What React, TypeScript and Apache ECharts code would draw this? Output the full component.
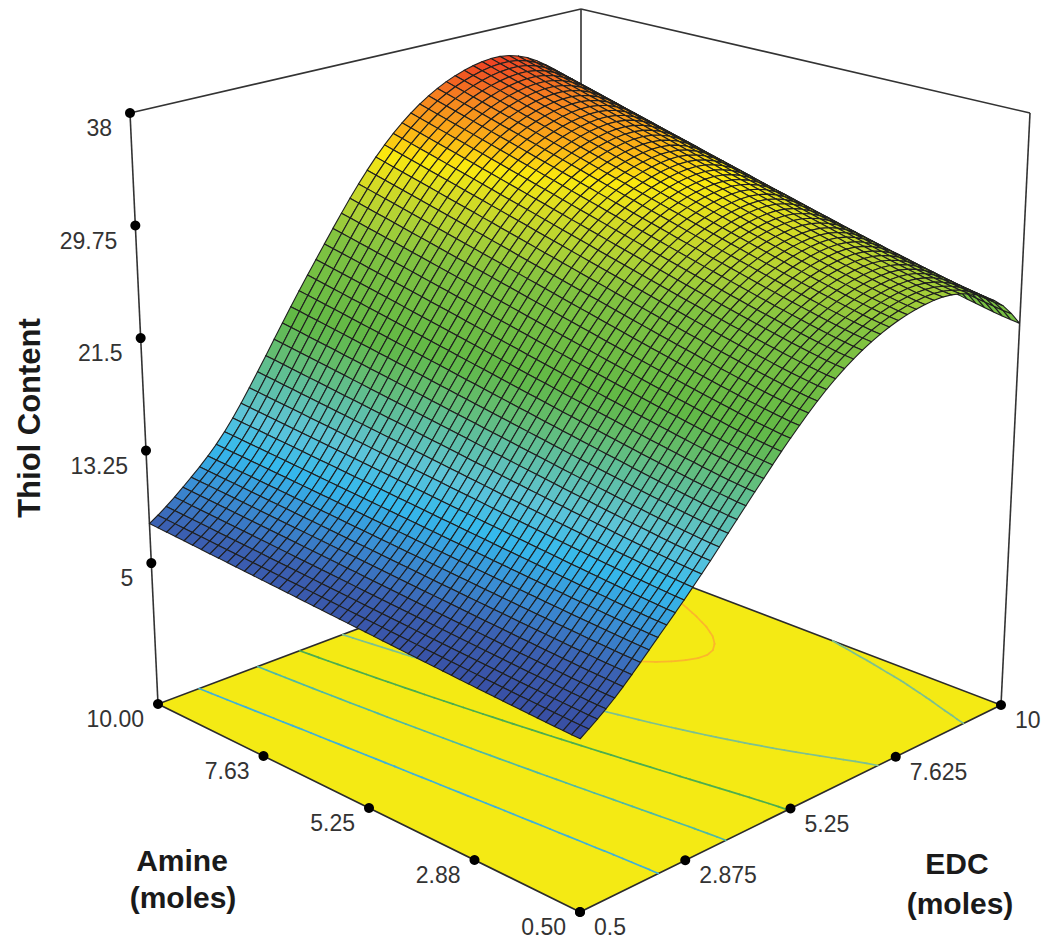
import React, { useEffect, useRef } from "react";
import * as echarts from "echarts";

// Axis tick labels and values
const thiolTicks = [5, 13.25, 21.5, 29.75, 38];
const thiolLabels = ["5", "13.25", "21.5", "29.75", "38"];
const amineTicks = [0.5, 2.875, 5.25, 7.625, 10];
const amineLabels = ["0.50", "2.88", "5.25", "7.63", "10.00"];
const edcTicks = [0.5, 2.875, 5.25, 7.625, 10];
const edcLabels = ["0.5", "2.875", "5.25", "7.625", "10"];

// Thiol content read along EDC (0.5 to 10) at the two Amine edges of the mesh
const thiolAtAmineLow = [
  5.6, 5.98, 6.38, 6.8, 7.26, 7.76, 8.3, 8.86, 9.44, 10.02, 10.6, 11.18, 11.78, 12.4, 13.04, 13.7,
  14.38, 15.08, 15.78, 16.48, 17.18, 17.88, 18.58, 19.28, 19.96, 20.62, 21.26, 21.88, 22.46, 23.0,
  23.5, 23.96, 24.38, 24.76, 25.1, 25.4, 25.66, 25.88, 26.06, 26.2, 26.3, 26.34, 26.3, 26.18,
  25.98, 25.7, 25.34, 24.88, 24.3, 23.52, 22.6,
];
const thiolAtAmineHigh = [
  7.9, 8.3, 8.74, 9.22, 9.74, 10.28, 10.84, 11.44, 12.1, 12.84, 13.66, 14.56, 15.52, 16.52, 17.54,
  18.58, 19.62, 20.66, 21.68, 22.68, 23.68, 24.68, 25.68, 26.66, 27.62, 28.55, 29.43, 30.26, 31.03,
  31.74, 32.39, 32.98, 33.51, 33.98, 34.39, 34.75, 35.05, 35.3, 35.5, 35.64, 35.72, 35.72, 35.62,
  35.42, 35.12, 34.72, 34.22, 33.64, 32.98, 32.2, 31.3,
];
// Share of the high-Amine edge at each Amine mesh line
const amineEdgeShare = [
  0, 0.009, 0.021, 0.034, 0.048, 0.063, 0.078, 0.095, 0.111, 0.128, 0.145, 0.163, 0.18, 0.199,
  0.217, 0.236, 0.255, 0.274, 0.293, 0.313, 0.333, 0.353, 0.373, 0.394, 0.415, 0.435, 0.456, 0.477,
  0.499, 0.52, 0.542, 0.563, 0.585, 0.607, 0.63, 0.652, 0.674, 0.697, 0.719, 0.742, 0.765, 0.788,
  0.811, 0.834, 0.858, 0.881, 0.905, 0.928, 0.952, 0.976, 1,
];

// Floor contours
const contourLevels = [10.2, 15.3, 20.4, 25.5, 30.6];
const contourColors = ["#3fb0d8", "#4fb8a6", "#4cae4f", "#7cc090", "#fbb62c"];

// Colour ramp of the surface
const rampValues = [5, 8, 10, 12, 14, 16.5, 18, 20, 25, 27, 29, 30.5, 32, 34, 36];
const rampColors = [
  "#38499f", "#3b60b2", "#3a90d6", "#35b9ec", "#5dc4d8", "#5fbf9a", "#63bd70", "#62b946",
  "#82c341", "#b0d235", "#dbdd22", "#fbe90f", "#fbb016", "#f58220", "#ed3524",
];

const Z_BASE = -5.33;
const Z_TOP = 38;
const N = thiolAtAmineLow.length - 1;

// Image position of the 8 corners of the plot box: [u (amine), v (edc), w (height)]
const C000 = [580, 912], C100 = [158, 704], C010 = [1001, 705], C110 = [581, 545];
const C001 = [581, 225], C101 = [130, 113], C011 = [1030, 113], C111 = [581, 9];

function project(u: number, v: number, w: number): number[] {
  const out = [0, 0];
  for (let k = 0; k < 2; k++) {
    const low =
      (1 - u) * (1 - v) * C000[k] + u * (1 - v) * C100[k] + (1 - u) * v * C010[k] + u * v * C110[k];
    const high =
      (1 - u) * (1 - v) * C001[k] + u * (1 - v) * C101[k] + (1 - u) * v * C011[k] + u * v * C111[k];
    out[k] = low * (1 - w) + high * w;
  }
  return out;
}
const heightOf = (z: number) => (z - Z_BASE) / (Z_TOP - Z_BASE);
const uOf = (amine: number) => (amine - 0.5) / 9.5;
const vOf = (edc: number) => (edc - 0.5) / 9.5;
const valueAt = (iu: number, iv: number) =>
  thiolAtAmineLow[iv] * (1 - amineEdgeShare[iu]) + thiolAtAmineHigh[iv] * amineEdgeShare[iu];

function hexToRgb(h: string) {
  return [parseInt(h.slice(1, 3), 16), parseInt(h.slice(3, 5), 16), parseInt(h.slice(5, 7), 16)];
}
function colorOf(z: number): string {
  if (z <= rampValues[0]) return rampColors[0];
  for (let i = 1; i < rampValues.length; i++) {
    if (z <= rampValues[i]) {
      const t = (z - rampValues[i - 1]) / (rampValues[i] - rampValues[i - 1]);
      const a = hexToRgb(rampColors[i - 1]);
      const b = hexToRgb(rampColors[i]);
      return `rgb(${a.map((c, k) => Math.round(c + (b[k] - c) * t)).join(",")})`;
    }
  }
  return rampColors[rampColors.length - 1];
}

// Mesh cells, far corner first so that nearer cells paint over farther ones
const cellData: number[][] = [];
for (let iu = N - 1; iu >= 0; iu--) for (let iv = N - 1; iv >= 0; iv--) cellData.push([iu, iv]);

// Contour segments from the same mesh values
const contourData: number[][] = [];
contourLevels.forEach((level, li) => {
  for (let iu = 0; iu < N; iu++) {
    for (let iv = 0; iv < N; iv++) {
      const corners = [
        [iu, iv],
        [iu + 1, iv],
        [iu + 1, iv + 1],
        [iu, iv + 1],
      ];
      const hits: number[][] = [];
      for (let e = 0; e < 4; e++) {
        const a = corners[e];
        const b = corners[(e + 1) % 4];
        const za = valueAt(a[0], a[1]);
        const zb = valueAt(b[0], b[1]);
        if (za < level !== zb < level) {
          const t = (level - za) / (zb - za);
          hits.push([(a[0] + (b[0] - a[0]) * t) / N, (a[1] + (b[1] - a[1]) * t) / N]);
        }
      }
      if (hits.length >= 2) contourData.push([hits[0][0], hits[0][1], hits[1][0], hits[1][1], li]);
    }
  }
});

// Box edges as [u, v, w, u, v, w]
const frameData = [
  [1, 0, 0, 1, 0, 1],
  [1, 0, 1, 1, 1, 1],
  [1, 1, 1, 0, 1, 1],
  [1, 1, 1, 1, 1, 0],
  [0, 1, 1, 0, 1, 0],
];

const tickFont = '23px "Liberation Sans", Arial, sans-serif';
const titleFont = 'bold 30px "Liberation Sans", Arial, sans-serif';
const axisTitleFont = 'bold 31px "Liberation Sans", Arial, sans-serif';

// [u, v, w, labelIndex, axisIndex]
const tickData: number[][] = [
  ...thiolTicks.map((t, i) => [1, 0, heightOf(t), i, 0]),
  ...amineTicks.map((t, i) => [uOf(t), 0, 0, i, 1]),
  ...edcTicks.map((t, i) => [0, vOf(t), 0, i, 2]),
];

function dot(p: number[], r: number) {
  return {
    type: "circle",
    shape: { cx: p[0], cy: p[1], r },
    style: { fill: "#000" },
  };
}

function App() {
  const ref = useRef<HTMLDivElement>(null);
  useEffect(() => {
    const chart = echarts.init(ref.current!, undefined, { renderer: "svg" });
    chart.setOption({
      animation: false,
      backgroundColor: "#ffffff",
      series: [
        {
          type: "custom",
          coordinateSystem: "none",
          z: 1,
          silent: true,
          data: frameData,
          renderItem: (_p: any, api: any) => {
            const a = project(api.value(0), api.value(1), api.value(2));
            const b = project(api.value(3), api.value(4), api.value(5));
            return {
              type: "line",
              shape: { x1: a[0], y1: a[1], x2: b[0], y2: b[1] },
              style: { stroke: "#333", lineWidth: 1.6, fill: "none" },
            };
          },
        },
        {
          type: "custom",
          coordinateSystem: "none",
          z: 2,
          silent: true,
          data: [[0]],
          renderItem: () => ({
            type: "polygon",
            shape: {
              points: [project(0, 0, 0), project(1, 0, 0), project(1, 1, 0), project(0, 1, 0)],
            },
            style: { fill: "#f4ea14", stroke: "#2b2b2b", lineWidth: 1.6 },
          }),
        },
        {
          type: "custom",
          coordinateSystem: "none",
          z: 3,
          silent: true,
          progressive: 0,
          data: contourData,
          renderItem: (_p: any, api: any) => {
            const a = project(api.value(0), api.value(1), 0);
            const b = project(api.value(2), api.value(3), 0);
            return {
              type: "line",
              shape: { x1: a[0], y1: a[1], x2: b[0], y2: b[1] },
              style: {
                stroke: contourColors[api.value(4)],
                lineWidth: 1.7,
                lineCap: "round",
                fill: "none",
              },
            };
          },
        },
        {
          type: "custom",
          coordinateSystem: "none",
          z: 4,
          silent: true,
          progressive: 0,
          data: cellData,
          renderItem: (_p: any, api: any) => {
            const iu = api.value(0);
            const iv = api.value(1);
            const zs = [
              valueAt(iu, iv),
              valueAt(iu + 1, iv),
              valueAt(iu + 1, iv + 1),
              valueAt(iu, iv + 1),
            ];
            const pts = [
              project(iu / N, iv / N, heightOf(zs[0])),
              project((iu + 1) / N, iv / N, heightOf(zs[1])),
              project((iu + 1) / N, (iv + 1) / N, heightOf(zs[2])),
              project(iu / N, (iv + 1) / N, heightOf(zs[3])),
            ];
            return {
              type: "polygon",
              shape: { points: pts },
              style: {
                fill: colorOf((zs[0] + zs[1] + zs[2] + zs[3]) / 4),
                stroke: "#1f1f1f",
                lineWidth: 1.1,
              },
            };
          },
        },
        {
          type: "custom",
          coordinateSystem: "none",
          z: 5,
          silent: true,
          data: tickData,
          renderItem: (_p: any, api: any) => {
            const p = project(api.value(0), api.value(1), api.value(2));
            const axis = api.value(4);
            const idx = api.value(3);
            const labels = [thiolLabels, amineLabels, edcLabels][axis];
            const label =
              axis === 0
                ? { x: p[0] - 18, y: p[1] + 15, align: "right" }
                : axis === 1
                ? { x: p[0] - 14, y: p[1] + 15, align: "right" }
                : { x: p[0] + 14, y: p[1] + 15, align: "left" };
            return {
              type: "group",
              children: [
                dot(p, 5),
                {
                  type: "text",
                  style: {
                    text: labels[idx],
                    x: label.x,
                    y: label.y,
                    align: label.align,
                    verticalAlign: "middle",
                    font: tickFont,
                    fill: "#333333",
                  },
                },
              ],
            };
          },
        },
      ],
      graphic: [
        {
          type: "text",
          x: 29,
          y: 418,
          rotation: Math.PI / 2,
          style: {
            text: "Thiol Content",
            font: axisTitleFont,
            fill: "#1a1a1a",
            align: "center",
            verticalAlign: "middle",
          },
        },
        {
          type: "text",
          x: 182,
          y: 860,
          style: {
            text: "Amine",
            font: titleFont,
            fill: "#1a1a1a",
            align: "center",
            verticalAlign: "middle",
          },
        },
        {
          type: "text",
          x: 183,
          y: 897,
          style: {
            text: "(moles)",
            font: titleFont,
            fill: "#1a1a1a",
            align: "center",
            verticalAlign: "middle",
          },
        },
        {
          type: "text",
          x: 957,
          y: 863,
          style: {
            text: "EDC",
            font: titleFont,
            fill: "#1a1a1a",
            align: "center",
            verticalAlign: "middle",
          },
        },
        {
          type: "text",
          x: 960,
          y: 903,
          style: {
            text: "(moles)",
            font: titleFont,
            fill: "#1a1a1a",
            align: "center",
            verticalAlign: "middle",
          },
        },
      ],
    });
    return () => chart.dispose();
  }, []);
  return (
    <div
      ref={ref}
      style={{ position: "absolute", left: 0, top: 0, width: 1049, height: 943 }}
    />
  );
}

export default App;
